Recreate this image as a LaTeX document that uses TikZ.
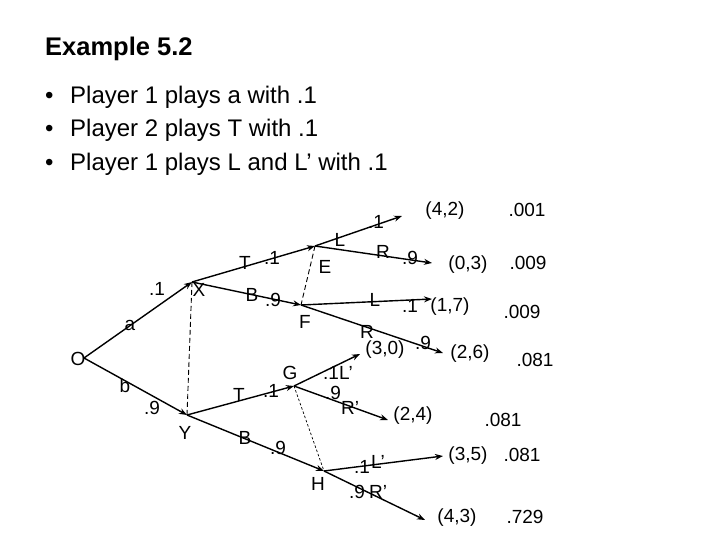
\documentclass[tikz,border=0pt]{standalone}
\usepackage{fontspec}
\setmainfont{Liberation Sans}
\usetikzlibrary{arrows.meta}
\begin{document}
\begin{tikzpicture}[x=1pt,y=-1pt,
  edge/.style={line width=1.4pt,-{Stealth[length=8pt,width=6pt]}},
  info/.style={line width=0.9pt,dash pattern=on 5pt off 3pt},
  infofine/.style={line width=0.7pt,dash pattern=on 2.5pt off 2pt},
  lbl/.style={inner sep=0pt,font=\fontsize{19}{19}\selectfont},
  head/.style={anchor=base west,inner sep=0pt,font=\fontsize{24}{24}\selectfont}]
\useasboundingbox (0,0) rectangle (720,540);
\fill[white] (0,0) rectangle (720,540);
% header
\node[head,font=\fontsize{25.5}{25.5}\selectfont\bfseries] (title) at (45,56) {Example 5.2};
\node[head] (b1m) at (45,104) {•};
\node[head] (b1) at (70,104) {Player 1 plays a with .1};
\node[head] (b2m) at (45,137) {•};
\node[head] (b2) at (70,137) {Player 2 plays T with .1};
\node[head] (b3m) at (45,171) {•};
\node[head] (b3) at (70,171) {Player 1 plays L and L’ with .1};
% decision points
\coordinate (pO) at (84,358);
\coordinate (pX) at (192,282);
\coordinate (pY) at (187,415);
\coordinate (pE) at (315,246);
\coordinate (pF) at (301,305);
\coordinate (pG) at (294,386);
\coordinate (pH) at (324,471);
\coordinate (t42) at (402,216);
\coordinate (t03) at (432,263);
\coordinate (t17) at (432,299);
\coordinate (t26) at (443,353);
\coordinate (t30) at (360,354);
\coordinate (t24) at (388,420);
\coordinate (t35) at (443,456);
\coordinate (t43) at (425,520);
% node labels
\node[lbl] (nO) at (78,359) {O};
\node[lbl] (nX) at (199,290) {X};
\node[lbl] (nY) at (185,433) {Y};
\node[lbl] (nE) at (325,267) {E};
\node[lbl] (nF) at (305,322) {F};
\node[lbl] (nG) at (290,373) {G};
\node[lbl] (nH) at (318,484) {H};
% edges
\draw[edge] (pO) -- (pX);
\draw[edge] (pO) -- (pY);
\draw[edge] (pX) -- (pE);
\draw[edge] (pX) -- (pF);
\draw[edge] (pY) -- (pG);
\draw[edge] (pY) -- (pH);
\draw[edge] (pE) -- (t42);
\draw[edge] (pE) -- (t03);
\draw[edge] (pF) -- (t17);
\draw[edge] (pF) -- (t26);
\draw[edge] (pG) -- (t30);
\draw[edge] (pG) -- (t24);
\draw[edge] (pH) -- (t35);
\draw[edge] (pH) -- (t43);
% information sets
\draw[info] (pX) -- (pY);
\draw[info] (pE) -- (pF);
\draw[infofine] (pG) -- (pH);
% action labels
\node[lbl] (la) at (130,325) {a};
\node[lbl] (pa) at (157,289) {.1};
\node[lbl] (lb) at (125,386) {b};
\node[lbl] (pb) at (152,408) {.9};
\node[lbl] (lXT) at (245,263) {T};
\node[lbl] (pXT) at (272,258) {.1};
\node[lbl] (lXB) at (252,295) {B};
\node[lbl] (pXB) at (273,300) {.9};
\node[lbl] (lYT) at (239,395) {T};
\node[lbl] (pYT) at (271,391) {.1};
\node[lbl] (lYB) at (245,438) {B};
\node[lbl] (pYB) at (278,448) {.9};
\node[lbl] (lEL) at (340,240) {L};
\node[lbl] (pEL) at (376,222) {.1};
\node[lbl] (lER) at (383,252) {R};
\node[lbl] (pER) at (410,258) {.9};
\node[lbl] (lFL) at (375,300) {L};
\node[lbl] (pFL) at (410,306) {.1};
\node[lbl] (lFR) at (367,332) {R};
\node[lbl] (pFR) at (423,343) {.9};
\node[lbl] (lGL) at (338,373) {.1L’};
\node[lbl] (pGR) at (333,393) {.9};
\node[lbl] (lGR) at (350,408) {R’};
\node[lbl] (pHL) at (362,467) {.1};
\node[lbl] (lHL) at (378,462) {L’};
\node[lbl] (pHR) at (357,492) {.9};
\node[lbl] (lHR) at (378,492) {R’};
% payoffs
\node[lbl] (u42) at (445,211) {(4,2)};
\node[lbl] (u03) at (468,265) {(0,3)};
\node[lbl] (u17) at (450,307) {(1,7)};
\node[lbl] (u30) at (385,350) {(3,0)};
\node[lbl] (u26) at (470,354) {(2,6)};
\node[lbl] (u24) at (413,416) {(2,4)};
\node[lbl] (u35) at (468,456) {(3,5)};
\node[lbl] (u43) at (457,518) {(4,3)};
% probabilities
\node[lbl] (q1) at (527,210) {.001};
\node[lbl] (q2) at (528,263) {.009};
\node[lbl] (q3) at (522,312) {.009};
\node[lbl] (q4) at (535,360) {.081};
\node[lbl] (q5) at (503,420) {.081};
\node[lbl] (q6) at (522,455) {.081};
\node[lbl] (q7) at (525,517) {.729};
\end{tikzpicture}
\end{document}
